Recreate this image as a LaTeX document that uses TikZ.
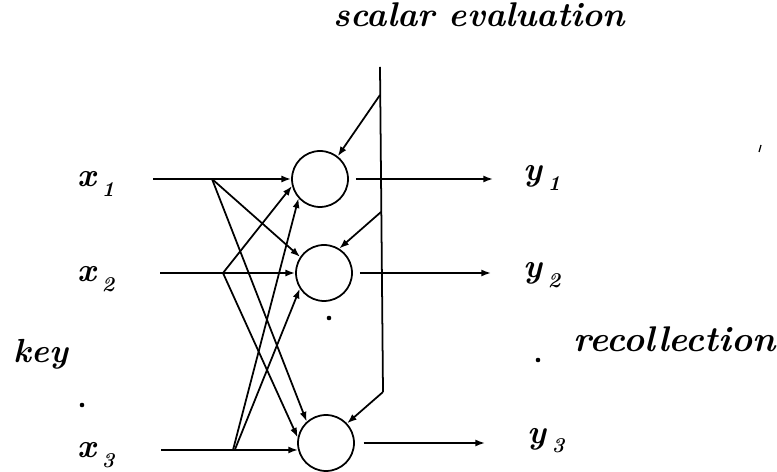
\documentclass[tikz,border=0pt]{standalone}
\usepackage{fontspec}
\usetikzlibrary{arrows.meta}
\newcommand{\idx}[2]{#1\kern3pt\raisebox{-5.5pt}{\fontsize{12}{12}\selectfont #2}}

\begin{document}
\begin{tikzpicture}[x=0.02cm, y=-0.02cm, line width=1pt,
    every node/.style={font=\bfseries\itshape\fontsize{19}{22}\selectfont},
    neuron/.style={draw, circle, minimum size=1.12cm, inner sep=0pt},
    lab/.style={inner sep=0pt, anchor=base west},
    wire/.style={-{Latex[length=5.5pt,width=4pt]}}]
  \useasboundingbox (0,0) rectangle (777,472);
  % Neurons
  \node[neuron] (n1) at (320,179) {};
  \node[neuron] (n2) at (324,273) {};
  \node[neuron] (n3) at (326,443) {};
  % Labels
  \node[lab, font=\bfseries\itshape\fontsize{19.5}{22}\selectfont] (ttl) at (333,27) {scalar evaluation};
  \node[lab] (key) at (13,363) {key};
  \node[lab, font=\bfseries\itshape\fontsize{20.3}{24}\selectfont] (rec) at (573,352) {recollection};
  \node[lab] (x1) at (77,187) {\idx{x}{1}};
  \node[lab] (x2) at (77,282) {\idx{x}{2}};
  \node[lab] (x3) at (77,458) {\idx{x}{3}};
  \node[lab] (y1) at (523,181) {\idx{y}{1}};
  \node[lab] (y2) at (523,278) {\idx{y}{2}};
  \node[lab] (y3) at (527,443) {\idx{y}{3}};
  % Input lines and fan-out points
  \coordinate (s1) at (153,179);
  \coordinate (s2) at (160,273);
  \coordinate (s3) at (161,450);
  \coordinate (p1) at (212,179);
  \coordinate (p2) at (223,273);
  \coordinate (p3) at (233,450);
  \draw[wire] (s1) -- (n1);
  \draw[wire] (s2) -- (n2);
  \draw[wire] (s3) -- (n3.194);
  \draw[wire] (p1) -- (n2.146);
  \draw[wire] (p1) -- (n3.132);
  \draw[wire] (p2) -- (n1.194);
  \draw[wire] (p2) -- (n3.169);
  \draw[wire] (p3) -- (n1.222);
  \draw[wire] ([xshift=1pt]p3) -- (n2.213);
  % Scalar evaluation feedback
  \coordinate (vtop) at (380,67);
  \coordinate (v1) at (380,95);
  \coordinate (v2) at (381,212);
  \coordinate (vbot) at (383,392);
  \draw (vtop) -- (vbot);
  \draw[wire] (v1) -- (n1.52);
  \draw[wire] (v2) -- (n2.58);
  \draw[wire] (vbot) -- (n3.43);
  % Outputs
  \coordinate (o1) at (493,179);
  \coordinate (o2) at (491,273);
  \coordinate (o3) at (485,443);
  \draw[wire, shorten <=4pt] (n1) -- (o1);
  \draw[wire, shorten <=4pt] (n2) -- (o2);
  \draw[wire, shorten <=5pt] (n3) -- (o3);
  % Dots
  \fill (82,405) circle (1.3pt);
  \fill (329,318) circle (1.3pt);
  \fill (538,360) circle (1.3pt);
  \draw[line width=0.7pt] (761,145) -- (759,152);
\end{tikzpicture}
\end{document}
